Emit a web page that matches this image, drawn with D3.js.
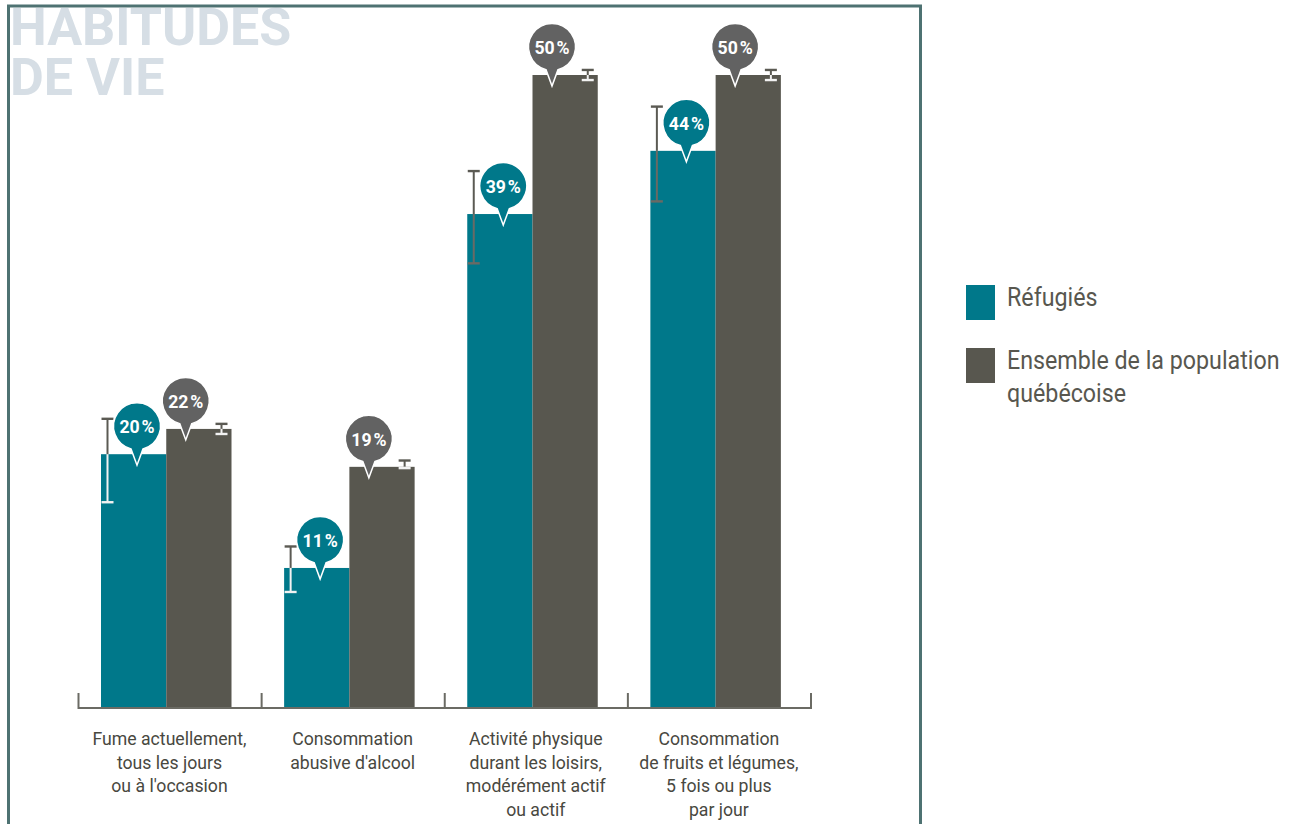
<!DOCTYPE html>
<html>
<head>
<meta charset="utf-8">
<script src="https://cdn.jsdelivr.net/npm/d3@7"></script>
<style>
  html, body { margin: 0; padding: 0; background: #fff; }
  svg { display: block; font-family: "Roboto", "Liberation Sans", sans-serif; }
</style>
</head>
<body>
<svg id="chart"></svg>
<script>
const width = 1293;
const height = 824;

// data
const categories = [
  ["Fume actuellement,", "tous les jours", "ou à l'occasion"],
  ["Consommation", "abusive d'alcool"],
  ["Activité physique", "durant les loisirs,", "modérément actif", "ou actif"],
  ["Consommation", "de fruits et légumes,", "5 fois ou plus", "par jour"]
];
const seriesNames = ["Réfugiés", "Ensemble de la population québécoise"];
const refugies = [20, 11, 39, 44];
const refugiesLow = [16.2, 9.1, 35.1, 40.0];
const refugiesHigh = [22.8, 12.7, 42.4, 47.5];
const population = [22, 19, 50, 50];
const populationLow = [21.6, 18.9, 49.6, 49.6];
const populationHigh = [22.4, 19.5, 50.4, 50.4];

const colors = ["#00788a", "#58574f"];
const bubbleColors = ["#00788a", "#626262"];
const errDark = "#5b5a53";
// colour of the part of a refugee error bar that sits inside its bar
const errInside = ["#f2f2f2", "#f2f2f2", "#6a6a64", "#6a6a64"];
const squeeze = 0.93; // narrow look of the condensed face

const svg = d3.select("#chart")
  .attr("width", width)
  .attr("height", height);

// title (drawn under the frame)
const title = svg.append("g")
  .attr("transform", "translate(10,0) scale(1.02,1)")
  .attr("fill", "#d6dee5")
  .attr("font-weight", 700)
  .attr("font-size", 51);
title.append("text").attr("x", 0).attr("y", 45).text("HABITUDES");
title.append("text").attr("x", 0).attr("y", 95).text("DE VIE");

// frame
svg.append("path")
  .attr("d", `M8.5,${height} V6 H920.5 V${height}`)
  .attr("fill", "none")
  .attr("stroke", "#4e7272")
  .attr("stroke-width", 3);

// scales
const x0 = d3.scaleBand()
  .domain(d3.range(categories.length))
  .range([78.5, 811])
  .padding(0);

const x1 = d3.scaleBand()
  .domain([0, 1])
  .range([22.5, 153])
  .padding(0);

const y = d3.scaleLinear()
  .domain([0, 50])
  .range([707, 75]);

const rows = categories.map((c, i) => ({
  i,
  values: [
    { s: 0, v: refugies[i], lo: refugiesLow[i], hi: refugiesHigh[i] },
    { s: 1, v: population[i], lo: populationLow[i], hi: populationHigh[i] }
  ]
}));

const groups = svg.append("g")
  .selectAll("g")
  .data(rows)
  .join("g")
  .attr("transform", d => `translate(${x0(d.i)},0)`);

groups.selectAll("rect")
  .data(d => d.values)
  .join("rect")
  .attr("x", d => x1(d.s))
  .attr("y", d => y(d.v))
  .attr("width", x1.bandwidth())
  .attr("height", d => y(0) - y(d.v))
  .attr("fill", d => colors[d.s]);

// error bars: dark above the bar top, light where they cross the bar
groups.each(function(row) {
  const g = d3.select(this);
  row.values.forEach(d => {
    const ex = d.s === 0 ? x1(0) + 6.5 : x1(1) + x1.bandwidth() - 10;
    const top = y(d.v);
    const yHi = y(d.hi);
    const yLo = y(d.lo);
    const inside = d.s === 0 ? errInside[row.i] : "#f2f2f2";
    const seg = (ya, yb, col) => {
      if (yb <= ya) return;
      g.append("line")
        .attr("x1", ex).attr("x2", ex)
        .attr("y1", ya).attr("y2", yb)
        .attr("stroke", col).attr("stroke-width", 2);
    };
    seg(yHi, Math.min(yLo, top), errDark);
    seg(Math.max(yHi, top), yLo, inside);
    [yHi, yLo].forEach(yy => {
      g.append("line")
        .attr("x1", ex - 6).attr("x2", ex + 6)
        .attr("y1", yy).attr("y2", yy)
        .attr("stroke", yy < top ? errDark : inside)
        .attr("stroke-width", 2.4);
    });
  });
});

// value bubbles
const r = 23.5;
const half = 6;
const bubble = groups.selectAll("g.bubble")
  .data(d => d.values)
  .join("g")
  .attr("class", "bubble")
  .attr("transform", d => {
    const cx = d.s === 0 ? x1(0) + 36 : x1(1) + 19.5;
    return `translate(${cx},${y(d.v) - 28})`;
  });

bubble.append("path")
  .attr("d", () => {
    const by = Math.sqrt(r * r - half * half);
    const tip = 28 + 11;
    return `M${-half},${by} A${r},${r} 0 1 1 ${half},${by} L0,${tip} Z`;
  })
  .attr("fill", d => bubbleColors[d.s])
  .attr("stroke", "#fff")
  .attr("stroke-width", 1.5);

bubble.append("text")
  .attr("transform", `scale(${squeeze},1)`)
  .attr("text-anchor", "middle")
  .attr("y", 7)
  .attr("fill", "#fff")
  .attr("font-weight", 700)
  .attr("font-size", 19)
  .text(d => d.v)
  .append("tspan")
  .attr("dx", 2)
  .text("%");

// axis
const axisG = svg.append("g");
axisG.append("line")
  .attr("x1", x0.range()[0]).attr("x2", x0.range()[1])
  .attr("y1", 708).attr("y2", 708)
  .attr("stroke", "#6b6b64").attr("stroke-width", 2);
axisG.selectAll("line.tick")
  .data(d3.range(categories.length + 1))
  .join("line")
  .attr("class", "tick")
  .attr("x1", i => i < categories.length ? x0(i) : x0.range()[1])
  .attr("x2", i => i < categories.length ? x0(i) : x0.range()[1])
  .attr("y1", 693).attr("y2", 709)
  .attr("stroke", "#6b6b64").attr("stroke-width", 2);

// category labels
svg.append("g")
  .selectAll("g")
  .data(categories)
  .join("g")
  .attr("transform", (d, i) => `translate(${x0(i) + 91},0) scale(${squeeze},1)`)
  .each(function(lines) {
    d3.select(this).selectAll("text")
      .data(lines)
      .join("text")
      .attr("text-anchor", "middle")
      .attr("y", (l, k) => 745 + k * 23.7)
      .attr("font-size", 19)
      .attr("fill", "#48483f")
      .text(l => l);
  });

// legend
const legend = svg.append("g").attr("transform", "translate(966,285)");
const legendLines = [[seriesNames[0]], ["Ensemble de la population", "québécoise"]];
legendLines.forEach((lines, i) => {
  const ly = i * 63;
  legend.append("rect")
    .attr("x", 0).attr("y", ly)
    .attr("width", 29).attr("height", 35)
    .attr("fill", colors[i]);
  const t = legend.append("g")
    .attr("transform", `translate(41,${ly}) scale(${squeeze},1)`);
  lines.forEach((l, k) => {
    t.append("text")
      .attr("x", 0)
      .attr("y", 21 + k * 33)
      .attr("font-size", 25)
      .attr("fill", "#58574f")
      .text(l);
  });
});
</script>
</body>
</html>
